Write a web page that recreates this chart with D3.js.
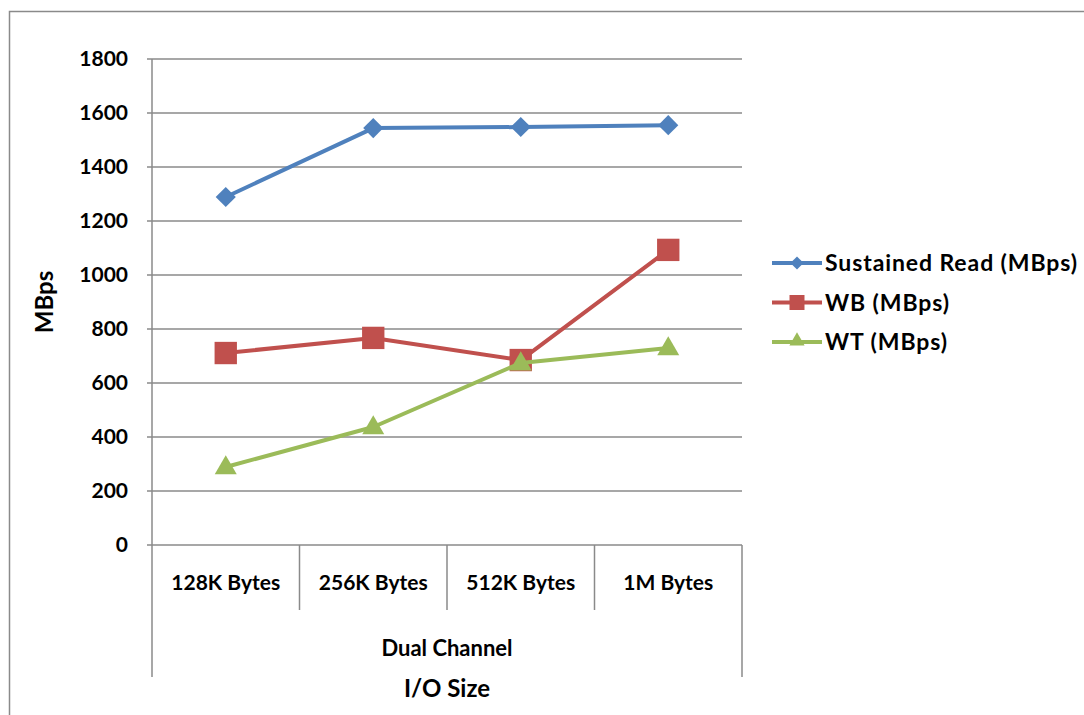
<!DOCTYPE html>
<html>
<head>
<meta charset="utf-8">
<script src="https://cdn.jsdelivr.net/npm/d3@7"></script>
<style>
  html, body { margin: 0; padding: 0; background: #fff; }
  svg { display: block; }
  text { font-family: Lato, "Open Sans", sans-serif; font-weight: bold; fill: #000; }
</style>
</head>
<body>
<svg id="chart" width="1084" height="715"></svg>
<script>
const categories = ["128K Bytes", "256K Bytes", "512K Bytes", "1M Bytes"];
const groupLabel = "Dual Channel";
const sustainedRead = [1289, 1544, 1548, 1555];
const wbValues = [711, 767, 685, 1093];
const wtValues = [289, 437, 674, 730];
const yTicks = [0, 200, 400, 600, 800, 1000, 1200, 1400, 1600, 1800];
const seriesNames = ["Sustained Read (MBps)", "WB (MBps)", "WT (MBps)"];
const seriesColors = ["#4F81BD", "#C0504D", "#9BBB59"];
const seriesMarkers = ["diamond", "square", "triangle"];
const xTitle = "I/O Size";
const yTitle = "MBps";

const series = [sustainedRead, wbValues, wtValues].map((v, i) => ({
  name: seriesNames[i], color: seriesColors[i], marker: seriesMarkers[i], values: v
}));

const svg = d3.select("#chart");
const L = 152, R = 742, T = 59, B = 545;
const x = d3.scaleBand().domain(categories).range([L, R]);
const y = d3.scaleLinear().domain([0, 1800]).range([B, T]);
const gridColor = "#8a8a8a";

// outer chart border (extends past window edges)
svg.append("rect").attr("x", 9.5).attr("y", 11.5).attr("width", 1200).attr("height", 900)
  .attr("fill", "none").attr("stroke", gridColor).attr("stroke-width", 1.5);

// gridlines
svg.append("g").selectAll("line").data(yTicks).join("line")
  .attr("x1", L - 5).attr("x2", R).attr("y1", d => y(d)).attr("y2", d => y(d))
  .attr("stroke", gridColor).attr("stroke-width", 1.5);

// y axis labels
const yAxis = svg.append("g").attr("transform", `translate(${L},0)`)
  .call(d3.axisLeft(y).tickValues(yTicks).tickSize(0).tickPadding(24).tickFormat(d3.format("d")));
yAxis.select(".domain").remove();
yAxis.selectAll("text").attr("font-size", 21).attr("font-family", "Lato").attr("font-weight", "bold").attr("fill", "#000");

// y axis line
svg.append("line").attr("x1", L).attr("x2", L).attr("y1", T).attr("y2", 677)
  .attr("stroke", gridColor).attr("stroke-width", 1.5);

// category separators
const seps = categories.map(c => x(c)).slice(1).concat([R]);
svg.append("g").selectAll("line").data(seps).join("line")
  .attr("x1", d => d).attr("x2", d => d).attr("y1", B)
  .attr("y2", (d, i) => i === seps.length - 1 ? 677 : 610)
  .attr("stroke", gridColor).attr("stroke-width", 1.5);

// category labels
const xAxis = svg.append("g").attr("transform", `translate(0,${B})`)
  .call(d3.axisBottom(x).tickSize(0).tickPadding(30));
xAxis.select(".domain").remove();
xAxis.selectAll("text").attr("font-size", 21).attr("font-family", "Lato").attr("font-weight", "bold").attr("fill", "#000");

svg.append("text").attr("x", (L + R) / 2).attr("y", 656).attr("text-anchor", "middle")
  .attr("font-size", 22).text(groupLabel);
svg.append("text").attr("x", (L + R) / 2).attr("y", 697).attr("text-anchor", "middle")
  .attr("font-size", 24).text(xTitle);
svg.append("text").attr("transform", "translate(53,302) rotate(-90)").attr("text-anchor", "middle")
  .attr("font-size", 24).text(yTitle);

function markerPath(type) {
  if (type === "diamond") return d3.symbol(d3.symbolDiamond2, 258)();
  if (type === "square") return d3.symbol(d3.symbolSquare, 500)();
  return d3.symbol(d3.symbolTriangle, 210)();
}
function markerPathSmall(type) {
  if (type === "diamond") return d3.symbol(d3.symbolDiamond2, 110)();
  if (type === "square") return d3.symbol(d3.symbolSquare, 225)();
  return d3.symbol(d3.symbolTriangle, 100)();
}

const cx = c => x(c) + x.bandwidth() / 2;
const line = d3.line().x((d, i) => cx(categories[i])).y(d => y(d));

const sg = svg.append("g").selectAll("g").data(series).join("g");
sg.append("path").attr("d", d => line(d.values)).attr("fill", "none")
  .attr("stroke", d => d.color).attr("stroke-width", 4).attr("stroke-linejoin", "round");
sg.each(function(s) {
  d3.select(this).selectAll("path.m").data(s.values).join("path").attr("class", "m")
    .attr("d", markerPath(s.marker))
    .attr("transform", (d, i) => `translate(${cx(categories[i])},${y(d) + (s.marker === "triangle" ? 1 : 0)})`)
    .attr("fill", s.color);
});

// legend
const lg = svg.append("g").selectAll("g").data(series).join("g")
  .attr("transform", (d, i) => `translate(772,${263 + i * 39.5})`);
lg.append("line").attr("x1", 0).attr("x2", 50).attr("stroke", d => d.color).attr("stroke-width", 4);
lg.append("path").attr("d", d => markerPathSmall(d.marker))
  .attr("transform", d => `translate(25,${d.marker === "triangle" ? -1 : 0})`).attr("fill", d => d.color);
lg.append("text").attr("x", 53).attr("y", 8).attr("font-size", 23).attr("letter-spacing", 0.9).text(d => d.name);
</script>
</body>
</html>
